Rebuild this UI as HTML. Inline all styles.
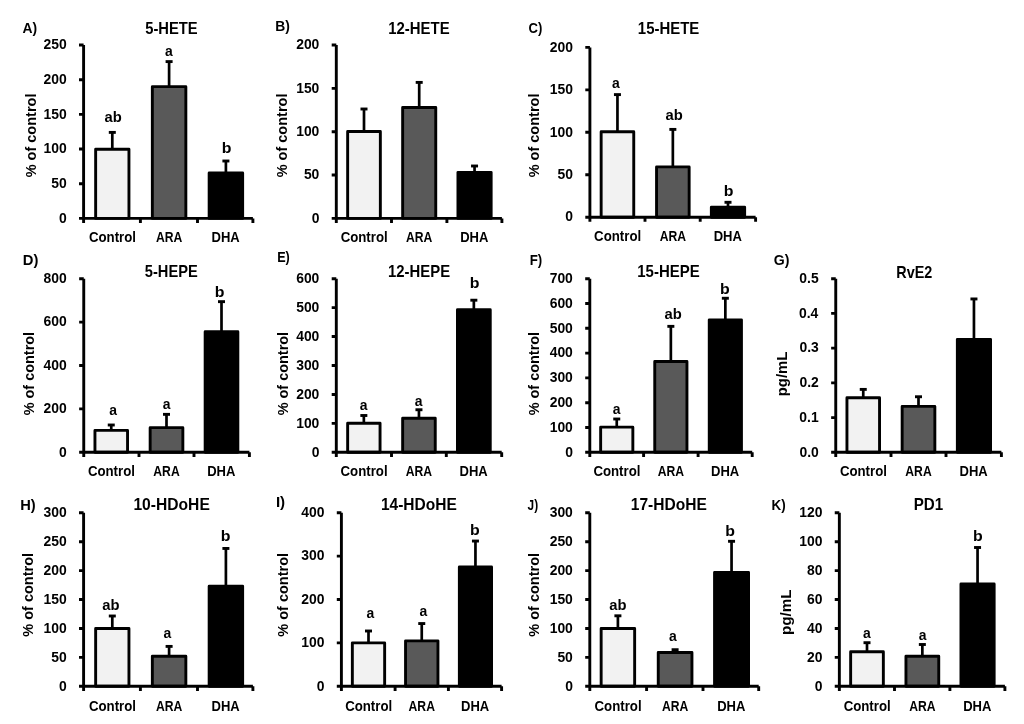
<!DOCTYPE html>
<html><head><meta charset="utf-8"><style>
html,body{margin:0;padding:0;background:#fff;}
svg{display:block;will-change:transform;}
text{font-family:"Liberation Sans",sans-serif;font-weight:bold;fill:#000;}
</style></head><body>
<svg width="1024" height="724" viewBox="0 0 1024 724">
<rect width="1024" height="724" fill="#fff"/>
<rect x="95.65" y="149.25" width="33.30" height="69.15" fill="#f2f2f2" stroke="#000" stroke-width="2.9" stroke-linejoin="round"/>
<path d="M112.30 149.25V132.40" stroke="#000" stroke-width="2.7"/>
<path d="M108.80 132.40H115.80" stroke="#000" stroke-width="2.9"/>
<text x="104.56" y="121.80" font-size="15.0" textLength="17.25" lengthAdjust="spacingAndGlyphs">ab</text>
<text x="88.94" y="241.80" font-size="14.6" textLength="47.09" lengthAdjust="spacingAndGlyphs">Control</text>
<rect x="152.35" y="86.65" width="33.50" height="131.75" fill="#595959" stroke="#000" stroke-width="2.9" stroke-linejoin="round"/>
<path d="M169.10 86.65V61.60" stroke="#000" stroke-width="2.7"/>
<path d="M165.60 61.60H172.60" stroke="#000" stroke-width="2.9"/>
<text x="164.98" y="56.30" font-size="15.0" textLength="7.74" lengthAdjust="spacingAndGlyphs">a</text>
<text x="155.93" y="241.80" font-size="14.6" textLength="26.34" lengthAdjust="spacingAndGlyphs">ARA</text>
<rect x="209.15" y="172.95" width="33.50" height="45.45" fill="#000000" stroke="#000" stroke-width="2.9" stroke-linejoin="round"/>
<path d="M225.90 172.95V161.00" stroke="#000" stroke-width="2.7"/>
<path d="M222.40 161.00H229.40" stroke="#000" stroke-width="2.9"/>
<text x="221.85" y="153.20" font-size="15.0" textLength="9.70" lengthAdjust="spacingAndGlyphs">b</text>
<text x="211.54" y="241.80" font-size="14.6" textLength="28.20" lengthAdjust="spacingAndGlyphs">DHA</text>
<text x="58.93" y="222.63" font-size="13.9">0</text>
<text x="51.20" y="187.95" font-size="13.9">50</text>
<text x="43.47" y="153.27" font-size="13.9">100</text>
<text x="43.47" y="118.59" font-size="13.9">150</text>
<text x="43.47" y="83.91" font-size="13.9">200</text>
<text x="43.47" y="49.23" font-size="13.9">250</text>
<path d="M83.60 45.00V223.00M79.00 218.40H252.90M79.00 183.72H83.60M79.00 149.04H83.60M79.00 114.36H83.60M79.00 79.68H83.60M79.00 45.00H83.60M140.40 218.40V223.00M197.50 218.40V223.00M252.90 218.40V223.00" fill="none" stroke="#000" stroke-width="2.9"/>
<text x="145.23" y="33.60" font-size="16.6" textLength="52.43" lengthAdjust="spacingAndGlyphs">5-HETE</text>
<text x="22.54" y="32.90" font-size="15.0" textLength="14.64" lengthAdjust="spacingAndGlyphs">A)</text>
<text x="-177.35" y="35.70" font-size="15.1" textLength="83.75" lengthAdjust="spacingAndGlyphs" transform="rotate(-90)">% of control</text>
<rect x="347.65" y="131.45" width="32.70" height="86.95" fill="#f2f2f2" stroke="#000" stroke-width="2.9" stroke-linejoin="round"/>
<path d="M364.00 131.45V109.00" stroke="#000" stroke-width="2.7"/>
<path d="M360.50 109.00H367.50" stroke="#000" stroke-width="2.9"/>
<text x="340.64" y="241.80" font-size="14.6" textLength="47.09" lengthAdjust="spacingAndGlyphs">Control</text>
<rect x="402.65" y="107.45" width="33.10" height="110.95" fill="#595959" stroke="#000" stroke-width="2.9" stroke-linejoin="round"/>
<path d="M419.20 107.45V82.40" stroke="#000" stroke-width="2.7"/>
<path d="M415.70 82.40H422.70" stroke="#000" stroke-width="2.9"/>
<text x="406.03" y="241.80" font-size="14.6" textLength="26.34" lengthAdjust="spacingAndGlyphs">ARA</text>
<rect x="457.95" y="172.35" width="33.20" height="46.05" fill="#000000" stroke="#000" stroke-width="2.9" stroke-linejoin="round"/>
<path d="M474.55 172.35V166.00" stroke="#000" stroke-width="2.7"/>
<path d="M471.05 166.00H478.05" stroke="#000" stroke-width="2.9"/>
<text x="460.19" y="241.80" font-size="14.6" textLength="28.20" lengthAdjust="spacingAndGlyphs">DHA</text>
<text x="311.63" y="222.63" font-size="13.9">0</text>
<text x="303.90" y="179.28" font-size="13.9">50</text>
<text x="296.17" y="135.93" font-size="13.9">100</text>
<text x="296.17" y="92.58" font-size="13.9">150</text>
<text x="296.17" y="49.23" font-size="13.9">200</text>
<path d="M336.30 45.00V223.00M331.70 218.40H501.90M331.70 175.05H336.30M331.70 131.70H336.30M331.70 88.35H336.30M331.70 45.00H336.30M391.50 218.40V223.00M446.90 218.40V223.00M501.90 218.40V223.00" fill="none" stroke="#000" stroke-width="2.9"/>
<text x="388.27" y="33.80" font-size="16.6" textLength="61.40" lengthAdjust="spacingAndGlyphs">12-HETE</text>
<text x="275.19" y="30.60" font-size="15.0" textLength="14.59" lengthAdjust="spacingAndGlyphs">B)</text>
<text x="-177.35" y="287.40" font-size="15.1" textLength="83.75" lengthAdjust="spacingAndGlyphs" transform="rotate(-90)">% of control</text>
<rect x="601.15" y="131.75" width="32.60" height="85.45" fill="#f2f2f2" stroke="#000" stroke-width="2.9" stroke-linejoin="round"/>
<path d="M617.45 131.75V94.60" stroke="#000" stroke-width="2.7"/>
<path d="M613.95 94.60H620.95" stroke="#000" stroke-width="2.9"/>
<text x="612.08" y="88.15" font-size="15.0" textLength="7.74" lengthAdjust="spacingAndGlyphs">a</text>
<text x="594.09" y="240.70" font-size="14.6" textLength="47.09" lengthAdjust="spacingAndGlyphs">Control</text>
<rect x="656.55" y="166.90" width="32.60" height="50.30" fill="#595959" stroke="#000" stroke-width="2.9" stroke-linejoin="round"/>
<path d="M672.85 166.90V129.40" stroke="#000" stroke-width="2.7"/>
<path d="M669.35 129.40H676.35" stroke="#000" stroke-width="2.9"/>
<text x="665.51" y="119.95" font-size="15.0" textLength="17.25" lengthAdjust="spacingAndGlyphs">ab</text>
<text x="659.68" y="240.70" font-size="14.6" textLength="26.34" lengthAdjust="spacingAndGlyphs">ARA</text>
<rect x="711.35" y="207.15" width="33.30" height="10.05" fill="#000000" stroke="#000" stroke-width="2.9" stroke-linejoin="round"/>
<path d="M728.00 207.15V202.30" stroke="#000" stroke-width="2.7"/>
<path d="M724.50 202.30H731.50" stroke="#000" stroke-width="2.9"/>
<text x="723.80" y="195.50" font-size="15.0" textLength="9.70" lengthAdjust="spacingAndGlyphs">b</text>
<text x="713.64" y="240.70" font-size="14.6" textLength="28.20" lengthAdjust="spacingAndGlyphs">DHA</text>
<text x="565.23" y="221.43" font-size="13.9">0</text>
<text x="557.50" y="178.98" font-size="13.9">50</text>
<text x="549.77" y="136.53" font-size="13.9">100</text>
<text x="549.77" y="94.08" font-size="13.9">150</text>
<text x="549.77" y="51.63" font-size="13.9">200</text>
<path d="M589.90 47.40V221.80M585.30 217.20H755.60M585.30 174.75H589.90M585.30 132.30H589.90M585.30 89.85H589.90M585.30 47.40H589.90M645.00 217.20V221.80M700.20 217.20V221.80M755.60 217.20V221.80" fill="none" stroke="#000" stroke-width="2.9"/>
<text x="637.82" y="33.80" font-size="16.6" textLength="61.50" lengthAdjust="spacingAndGlyphs">15-HETE</text>
<text x="528.45" y="32.80" font-size="15.0" textLength="13.79" lengthAdjust="spacingAndGlyphs">C)</text>
<text x="-177.35" y="538.80" font-size="15.1" textLength="83.75" lengthAdjust="spacingAndGlyphs" transform="rotate(-90)">% of control</text>
<rect x="94.95" y="430.40" width="32.60" height="21.90" fill="#f2f2f2" stroke="#000" stroke-width="2.9" stroke-linejoin="round"/>
<path d="M111.25 430.40V425.00" stroke="#000" stroke-width="2.7"/>
<path d="M107.75 425.00H114.75" stroke="#000" stroke-width="2.9"/>
<text x="109.13" y="415.40" font-size="15.0" textLength="7.74" lengthAdjust="spacingAndGlyphs">a</text>
<text x="87.89" y="476.20" font-size="14.6" textLength="47.09" lengthAdjust="spacingAndGlyphs">Control</text>
<rect x="150.15" y="427.65" width="32.70" height="24.65" fill="#595959" stroke="#000" stroke-width="2.9" stroke-linejoin="round"/>
<path d="M166.50 427.65V414.35" stroke="#000" stroke-width="2.7"/>
<path d="M163.00 414.35H170.00" stroke="#000" stroke-width="2.9"/>
<text x="162.78" y="408.50" font-size="15.0" textLength="7.74" lengthAdjust="spacingAndGlyphs">a</text>
<text x="153.33" y="476.20" font-size="14.6" textLength="26.34" lengthAdjust="spacingAndGlyphs">ARA</text>
<rect x="205.15" y="331.75" width="32.70" height="120.55" fill="#000000" stroke="#000" stroke-width="2.9" stroke-linejoin="round"/>
<path d="M221.50 331.75V301.65" stroke="#000" stroke-width="2.7"/>
<path d="M218.00 301.65H225.00" stroke="#000" stroke-width="2.9"/>
<text x="214.70" y="297.00" font-size="15.0" textLength="9.70" lengthAdjust="spacingAndGlyphs">b</text>
<text x="207.14" y="476.20" font-size="14.6" textLength="28.20" lengthAdjust="spacingAndGlyphs">DHA</text>
<text x="59.08" y="456.53" font-size="13.9">0</text>
<text x="43.62" y="413.13" font-size="13.9">200</text>
<text x="43.62" y="369.73" font-size="13.9">400</text>
<text x="43.62" y="326.33" font-size="13.9">600</text>
<text x="43.62" y="282.93" font-size="13.9">800</text>
<path d="M83.75 278.70V456.90M79.15 452.30H249.40M79.15 408.90H83.75M79.15 365.50H83.75M79.15 322.10H83.75M79.15 278.70H83.75M139.00 452.30V456.90M194.00 452.30V456.90M249.40 452.30V456.90" fill="none" stroke="#000" stroke-width="2.9"/>
<text x="144.83" y="277.40" font-size="16.6" textLength="52.93" lengthAdjust="spacingAndGlyphs">5-HEPE</text>
<text x="22.82" y="264.70" font-size="15.0" textLength="15.60" lengthAdjust="spacingAndGlyphs">D)</text>
<text x="-415.35" y="33.70" font-size="15.1" textLength="83.45" lengthAdjust="spacingAndGlyphs" transform="rotate(-90)">% of control</text>
<rect x="347.65" y="423.20" width="32.40" height="29.10" fill="#f2f2f2" stroke="#000" stroke-width="2.9" stroke-linejoin="round"/>
<path d="M363.85 423.20V415.50" stroke="#000" stroke-width="2.7"/>
<path d="M360.35 415.50H367.35" stroke="#000" stroke-width="2.9"/>
<text x="359.73" y="409.80" font-size="15.0" textLength="7.74" lengthAdjust="spacingAndGlyphs">a</text>
<text x="340.49" y="476.20" font-size="14.6" textLength="47.09" lengthAdjust="spacingAndGlyphs">Control</text>
<rect x="402.65" y="418.20" width="32.60" height="34.10" fill="#595959" stroke="#000" stroke-width="2.9" stroke-linejoin="round"/>
<path d="M418.95 418.20V409.75" stroke="#000" stroke-width="2.7"/>
<path d="M415.45 409.75H422.45" stroke="#000" stroke-width="2.9"/>
<text x="414.83" y="405.70" font-size="15.0" textLength="7.74" lengthAdjust="spacingAndGlyphs">a</text>
<text x="405.78" y="476.20" font-size="14.6" textLength="26.34" lengthAdjust="spacingAndGlyphs">ARA</text>
<rect x="457.45" y="309.70" width="32.80" height="142.60" fill="#000000" stroke="#000" stroke-width="2.9" stroke-linejoin="round"/>
<path d="M473.85 309.70V300.20" stroke="#000" stroke-width="2.7"/>
<path d="M470.35 300.20H477.35" stroke="#000" stroke-width="2.9"/>
<text x="469.70" y="287.90" font-size="15.0" textLength="9.70" lengthAdjust="spacingAndGlyphs">b</text>
<text x="459.49" y="476.20" font-size="14.6" textLength="28.20" lengthAdjust="spacingAndGlyphs">DHA</text>
<text x="311.63" y="456.53" font-size="13.9">0</text>
<text x="296.17" y="427.60" font-size="13.9">100</text>
<text x="296.17" y="398.66" font-size="13.9">200</text>
<text x="296.17" y="369.73" font-size="13.9">300</text>
<text x="296.17" y="340.80" font-size="13.9">400</text>
<text x="296.17" y="311.86" font-size="13.9">500</text>
<text x="296.17" y="282.93" font-size="13.9">600</text>
<path d="M336.30 278.70V456.90M331.70 452.30H501.70M331.70 423.37H336.30M331.70 394.43H336.30M331.70 365.50H336.30M331.70 336.57H336.30M331.70 307.63H336.30M331.70 278.70H336.30M391.50 452.30V456.90M446.30 452.30V456.90M501.70 452.30V456.90" fill="none" stroke="#000" stroke-width="2.9"/>
<text x="388.08" y="277.40" font-size="16.6" textLength="61.99" lengthAdjust="spacingAndGlyphs">12-HEPE</text>
<text x="277.17" y="262.10" font-size="15.0" textLength="12.64" lengthAdjust="spacingAndGlyphs">E)</text>
<text x="-415.35" y="287.70" font-size="15.1" textLength="83.45" lengthAdjust="spacingAndGlyphs" transform="rotate(-90)">% of control</text>
<rect x="600.65" y="427.15" width="32.20" height="25.15" fill="#f2f2f2" stroke="#000" stroke-width="2.9" stroke-linejoin="round"/>
<path d="M616.75 427.15V419.00" stroke="#000" stroke-width="2.7"/>
<path d="M613.25 419.00H620.25" stroke="#000" stroke-width="2.9"/>
<text x="612.63" y="414.30" font-size="15.0" textLength="7.74" lengthAdjust="spacingAndGlyphs">a</text>
<text x="593.39" y="476.20" font-size="14.6" textLength="47.09" lengthAdjust="spacingAndGlyphs">Control</text>
<rect x="654.75" y="361.50" width="32.20" height="90.80" fill="#595959" stroke="#000" stroke-width="2.9" stroke-linejoin="round"/>
<path d="M670.85 361.50V326.35" stroke="#000" stroke-width="2.7"/>
<path d="M667.35 326.35H674.35" stroke="#000" stroke-width="2.9"/>
<text x="664.56" y="319.25" font-size="15.0" textLength="17.25" lengthAdjust="spacingAndGlyphs">ab</text>
<text x="657.68" y="476.20" font-size="14.6" textLength="26.34" lengthAdjust="spacingAndGlyphs">ARA</text>
<rect x="709.25" y="319.85" width="32.20" height="132.45" fill="#000000" stroke="#000" stroke-width="2.9" stroke-linejoin="round"/>
<path d="M725.35 319.85V298.25" stroke="#000" stroke-width="2.7"/>
<path d="M721.85 298.25H728.85" stroke="#000" stroke-width="2.9"/>
<text x="719.90" y="293.75" font-size="15.0" textLength="9.70" lengthAdjust="spacingAndGlyphs">b</text>
<text x="710.99" y="476.20" font-size="14.6" textLength="28.20" lengthAdjust="spacingAndGlyphs">DHA</text>
<text x="565.13" y="456.53" font-size="13.9">0</text>
<text x="549.67" y="431.73" font-size="13.9">100</text>
<text x="549.67" y="406.93" font-size="13.9">200</text>
<text x="549.67" y="382.13" font-size="13.9">300</text>
<text x="549.67" y="357.33" font-size="13.9">400</text>
<text x="549.67" y="332.53" font-size="13.9">500</text>
<text x="549.67" y="307.73" font-size="13.9">600</text>
<text x="549.67" y="282.93" font-size="13.9">700</text>
<path d="M589.80 278.70V456.90M585.20 452.30H752.20M585.20 427.50H589.80M585.20 402.70H589.80M585.20 377.90H589.80M585.20 353.10H589.80M585.20 328.30H589.80M585.20 303.50H589.80M585.20 278.70H589.80M643.60 452.30V456.90M698.10 452.30V456.90M752.20 452.30V456.90" fill="none" stroke="#000" stroke-width="2.9"/>
<text x="637.27" y="277.40" font-size="16.6" textLength="62.40" lengthAdjust="spacingAndGlyphs">15-HEPE</text>
<text x="529.72" y="264.60" font-size="15.0" textLength="12.54" lengthAdjust="spacingAndGlyphs">F)</text>
<text x="-415.35" y="538.80" font-size="15.1" textLength="83.45" lengthAdjust="spacingAndGlyphs" transform="rotate(-90)">% of control</text>
<rect x="846.95" y="397.70" width="32.60" height="54.60" fill="#f2f2f2" stroke="#000" stroke-width="2.9" stroke-linejoin="round"/>
<path d="M863.25 397.70V389.40" stroke="#000" stroke-width="2.7"/>
<path d="M859.75 389.40H866.75" stroke="#000" stroke-width="2.9"/>
<text x="839.89" y="476.20" font-size="14.6" textLength="47.09" lengthAdjust="spacingAndGlyphs">Control</text>
<rect x="902.15" y="406.40" width="32.70" height="45.90" fill="#595959" stroke="#000" stroke-width="2.9" stroke-linejoin="round"/>
<path d="M918.50 406.40V396.75" stroke="#000" stroke-width="2.7"/>
<path d="M915.00 396.75H922.00" stroke="#000" stroke-width="2.9"/>
<text x="905.33" y="476.20" font-size="14.6" textLength="26.34" lengthAdjust="spacingAndGlyphs">ARA</text>
<rect x="957.35" y="339.35" width="33.20" height="112.95" fill="#000000" stroke="#000" stroke-width="2.9" stroke-linejoin="round"/>
<path d="M973.95 339.35V298.95" stroke="#000" stroke-width="2.7"/>
<path d="M970.45 298.95H977.45" stroke="#000" stroke-width="2.9"/>
<text x="959.59" y="476.20" font-size="14.6" textLength="28.20" lengthAdjust="spacingAndGlyphs">DHA</text>
<text x="799.49" y="456.53" font-size="13.9">0.0</text>
<text x="799.32" y="421.81" font-size="13.9">0.1</text>
<text x="799.49" y="387.09" font-size="13.9">0.2</text>
<text x="799.43" y="352.37" font-size="13.9">0.3</text>
<text x="799.01" y="317.65" font-size="13.9">0.4</text>
<text x="799.32" y="282.93" font-size="13.9">0.5</text>
<path d="M835.75 278.70V456.90M831.15 452.30H1001.40M831.15 417.58H835.75M831.15 382.86H835.75M831.15 348.14H835.75M831.15 313.42H835.75M831.15 278.70H835.75M891.00 452.30V456.90M946.00 452.30V456.90M1001.40 452.30V456.90" fill="none" stroke="#000" stroke-width="2.9"/>
<text x="896.25" y="277.60" font-size="16.6" textLength="36.02" lengthAdjust="spacingAndGlyphs">RvE2</text>
<text x="773.71" y="264.60" font-size="15.0" textLength="15.68" lengthAdjust="spacingAndGlyphs">G)</text>
<text x="-396.28" y="786.90" font-size="14.3" textLength="44.76" lengthAdjust="spacingAndGlyphs" transform="rotate(-90)">pg/mL</text>
<rect x="95.65" y="628.50" width="33.30" height="57.80" fill="#f2f2f2" stroke="#000" stroke-width="2.9" stroke-linejoin="round"/>
<path d="M112.30 628.50V616.00" stroke="#000" stroke-width="2.7"/>
<path d="M108.80 616.00H115.80" stroke="#000" stroke-width="2.9"/>
<text x="102.36" y="609.80" font-size="15.0" textLength="17.25" lengthAdjust="spacingAndGlyphs">ab</text>
<text x="88.94" y="710.50" font-size="14.6" textLength="47.09" lengthAdjust="spacingAndGlyphs">Control</text>
<rect x="152.35" y="656.30" width="33.50" height="30.00" fill="#595959" stroke="#000" stroke-width="2.9" stroke-linejoin="round"/>
<path d="M169.10 656.30V646.40" stroke="#000" stroke-width="2.7"/>
<path d="M165.60 646.40H172.60" stroke="#000" stroke-width="2.9"/>
<text x="163.38" y="638.25" font-size="15.0" textLength="7.74" lengthAdjust="spacingAndGlyphs">a</text>
<text x="155.93" y="710.50" font-size="14.6" textLength="26.34" lengthAdjust="spacingAndGlyphs">ARA</text>
<rect x="209.15" y="586.20" width="33.50" height="100.10" fill="#000000" stroke="#000" stroke-width="2.9" stroke-linejoin="round"/>
<path d="M225.90 586.20V548.45" stroke="#000" stroke-width="2.7"/>
<path d="M222.40 548.45H229.40" stroke="#000" stroke-width="2.9"/>
<text x="220.85" y="541.30" font-size="15.0" textLength="9.70" lengthAdjust="spacingAndGlyphs">b</text>
<text x="211.54" y="710.50" font-size="14.6" textLength="28.20" lengthAdjust="spacingAndGlyphs">DHA</text>
<text x="58.93" y="690.53" font-size="13.9">0</text>
<text x="51.20" y="661.61" font-size="13.9">50</text>
<text x="43.47" y="632.70" font-size="13.9">100</text>
<text x="43.47" y="603.78" font-size="13.9">150</text>
<text x="43.47" y="574.86" font-size="13.9">200</text>
<text x="43.47" y="545.95" font-size="13.9">250</text>
<text x="43.47" y="517.03" font-size="13.9">300</text>
<path d="M83.60 512.80V690.90M79.00 686.30H252.90M79.00 657.38H83.60M79.00 628.47H83.60M79.00 599.55H83.60M79.00 570.63H83.60M79.00 541.72H83.60M79.00 512.80H83.60M140.40 686.30V690.90M197.50 686.30V690.90M252.90 686.30V690.90" fill="none" stroke="#000" stroke-width="2.9"/>
<text x="133.43" y="510.00" font-size="16.6" textLength="76.39" lengthAdjust="spacingAndGlyphs">10-HDoHE</text>
<text x="20.13" y="509.60" font-size="15.0" textLength="15.49" lengthAdjust="spacingAndGlyphs">H)</text>
<text x="-636.65" y="33.40" font-size="15.1" textLength="83.65" lengthAdjust="spacingAndGlyphs" transform="rotate(-90)">% of control</text>
<rect x="352.35" y="642.85" width="32.30" height="43.45" fill="#f2f2f2" stroke="#000" stroke-width="2.9" stroke-linejoin="round"/>
<path d="M368.50 642.85V631.00" stroke="#000" stroke-width="2.7"/>
<path d="M365.00 631.00H372.00" stroke="#000" stroke-width="2.9"/>
<text x="366.48" y="618.30" font-size="15.0" textLength="7.74" lengthAdjust="spacingAndGlyphs">a</text>
<text x="345.14" y="710.50" font-size="14.6" textLength="47.09" lengthAdjust="spacingAndGlyphs">Control</text>
<rect x="405.55" y="640.85" width="32.40" height="45.45" fill="#595959" stroke="#000" stroke-width="2.9" stroke-linejoin="round"/>
<path d="M421.75 640.85V623.55" stroke="#000" stroke-width="2.7"/>
<path d="M418.25 623.55H425.25" stroke="#000" stroke-width="2.9"/>
<text x="419.38" y="616.20" font-size="15.0" textLength="7.74" lengthAdjust="spacingAndGlyphs">a</text>
<text x="408.58" y="710.50" font-size="14.6" textLength="26.34" lengthAdjust="spacingAndGlyphs">ARA</text>
<rect x="459.35" y="566.95" width="32.20" height="119.35" fill="#000000" stroke="#000" stroke-width="2.9" stroke-linejoin="round"/>
<path d="M475.45 566.95V541.05" stroke="#000" stroke-width="2.7"/>
<path d="M471.95 541.05H478.95" stroke="#000" stroke-width="2.9"/>
<text x="469.90" y="534.90" font-size="15.0" textLength="9.70" lengthAdjust="spacingAndGlyphs">b</text>
<text x="461.09" y="710.50" font-size="14.6" textLength="28.20" lengthAdjust="spacingAndGlyphs">DHA</text>
<text x="316.73" y="690.53" font-size="13.9">0</text>
<text x="301.27" y="647.15" font-size="13.9">100</text>
<text x="301.27" y="603.78" font-size="13.9">200</text>
<text x="301.27" y="560.40" font-size="13.9">300</text>
<text x="301.27" y="517.03" font-size="13.9">400</text>
<path d="M341.40 512.80V690.90M336.80 686.30H501.60M336.80 642.92H341.40M336.80 599.55H341.40M336.80 556.17H341.40M336.80 512.80H341.40M395.10 686.30V690.90M448.40 686.30V690.90M501.60 686.30V690.90" fill="none" stroke="#000" stroke-width="2.9"/>
<text x="380.94" y="510.00" font-size="16.6" textLength="75.88" lengthAdjust="spacingAndGlyphs">14-HDoHE</text>
<text x="275.90" y="506.90" font-size="15.0" textLength="9.24" lengthAdjust="spacingAndGlyphs">I)</text>
<text x="-636.65" y="287.80" font-size="15.1" textLength="83.65" lengthAdjust="spacingAndGlyphs" transform="rotate(-90)">% of control</text>
<rect x="601.15" y="628.50" width="33.50" height="57.80" fill="#f2f2f2" stroke="#000" stroke-width="2.9" stroke-linejoin="round"/>
<path d="M617.90 628.50V615.80" stroke="#000" stroke-width="2.7"/>
<path d="M614.40 615.80H621.40" stroke="#000" stroke-width="2.9"/>
<text x="609.36" y="609.90" font-size="15.0" textLength="17.25" lengthAdjust="spacingAndGlyphs">ab</text>
<text x="594.54" y="710.50" font-size="14.6" textLength="47.09" lengthAdjust="spacingAndGlyphs">Control</text>
<rect x="658.25" y="652.55" width="33.70" height="33.75" fill="#595959" stroke="#000" stroke-width="2.9" stroke-linejoin="round"/>
<path d="M675.10 652.55V649.70" stroke="#000" stroke-width="2.7"/>
<path d="M671.60 649.70H678.60" stroke="#000" stroke-width="2.9"/>
<text x="668.88" y="640.90" font-size="15.0" textLength="7.74" lengthAdjust="spacingAndGlyphs">a</text>
<text x="661.93" y="710.50" font-size="14.6" textLength="26.34" lengthAdjust="spacingAndGlyphs">ARA</text>
<rect x="714.55" y="572.40" width="34.00" height="113.90" fill="#000000" stroke="#000" stroke-width="2.9" stroke-linejoin="round"/>
<path d="M731.55 572.40V541.30" stroke="#000" stroke-width="2.7"/>
<path d="M728.05 541.30H735.05" stroke="#000" stroke-width="2.9"/>
<text x="725.25" y="536.10" font-size="15.0" textLength="9.70" lengthAdjust="spacingAndGlyphs">b</text>
<text x="717.19" y="710.50" font-size="14.6" textLength="28.20" lengthAdjust="spacingAndGlyphs">DHA</text>
<text x="565.13" y="690.53" font-size="13.9">0</text>
<text x="557.40" y="661.61" font-size="13.9">50</text>
<text x="549.67" y="632.70" font-size="13.9">100</text>
<text x="549.67" y="603.78" font-size="13.9">150</text>
<text x="549.67" y="574.86" font-size="13.9">200</text>
<text x="549.67" y="545.95" font-size="13.9">250</text>
<text x="549.67" y="517.03" font-size="13.9">300</text>
<path d="M589.80 512.80V690.90M585.20 686.30H758.70M585.20 657.38H589.80M585.20 628.47H589.80M585.20 599.55H589.80M585.20 570.63H589.80M585.20 541.72H589.80M585.20 512.80H589.80M646.60 686.30V690.90M703.00 686.30V690.90M758.70 686.30V690.90" fill="none" stroke="#000" stroke-width="2.9"/>
<text x="630.74" y="510.00" font-size="16.6" textLength="76.08" lengthAdjust="spacingAndGlyphs">17-HDoHE</text>
<text x="527.61" y="509.60" font-size="15.0" textLength="10.57" lengthAdjust="spacingAndGlyphs">J)</text>
<text x="-636.65" y="538.50" font-size="15.1" textLength="83.65" lengthAdjust="spacingAndGlyphs" transform="rotate(-90)">% of control</text>
<rect x="850.65" y="651.75" width="32.70" height="34.55" fill="#f2f2f2" stroke="#000" stroke-width="2.9" stroke-linejoin="round"/>
<path d="M867.00 651.75V642.70" stroke="#000" stroke-width="2.7"/>
<path d="M863.50 642.70H870.50" stroke="#000" stroke-width="2.9"/>
<text x="862.88" y="637.55" font-size="15.0" textLength="7.74" lengthAdjust="spacingAndGlyphs">a</text>
<text x="843.64" y="710.50" font-size="14.6" textLength="47.09" lengthAdjust="spacingAndGlyphs">Control</text>
<rect x="905.95" y="656.30" width="32.80" height="30.00" fill="#595959" stroke="#000" stroke-width="2.9" stroke-linejoin="round"/>
<path d="M922.35 656.30V644.50" stroke="#000" stroke-width="2.7"/>
<path d="M918.85 644.50H925.85" stroke="#000" stroke-width="2.9"/>
<text x="918.73" y="640.20" font-size="15.0" textLength="7.74" lengthAdjust="spacingAndGlyphs">a</text>
<text x="909.18" y="710.50" font-size="14.6" textLength="26.34" lengthAdjust="spacingAndGlyphs">ARA</text>
<rect x="960.95" y="584.00" width="33.20" height="102.30" fill="#000000" stroke="#000" stroke-width="2.9" stroke-linejoin="round"/>
<path d="M977.55 584.00V547.50" stroke="#000" stroke-width="2.7"/>
<path d="M974.05 547.50H981.05" stroke="#000" stroke-width="2.9"/>
<text x="973.10" y="541.30" font-size="15.0" textLength="9.70" lengthAdjust="spacingAndGlyphs">b</text>
<text x="963.19" y="710.50" font-size="14.6" textLength="28.20" lengthAdjust="spacingAndGlyphs">DHA</text>
<text x="814.68" y="690.53" font-size="13.9">0</text>
<text x="806.95" y="661.61" font-size="13.9">20</text>
<text x="806.95" y="632.70" font-size="13.9">40</text>
<text x="806.95" y="603.78" font-size="13.9">60</text>
<text x="806.95" y="574.86" font-size="13.9">80</text>
<text x="799.22" y="545.95" font-size="13.9">100</text>
<text x="799.22" y="517.03" font-size="13.9">120</text>
<path d="M839.35 512.80V690.90M834.75 686.30H1004.90M834.75 657.38H839.35M834.75 628.47H839.35M834.75 599.55H839.35M834.75 570.63H839.35M834.75 541.72H839.35M834.75 512.80H839.35M894.50 686.30V690.90M949.90 686.30V690.90M1004.90 686.30V690.90" fill="none" stroke="#000" stroke-width="2.9"/>
<text x="913.75" y="509.70" font-size="16.6" textLength="29.46" lengthAdjust="spacingAndGlyphs">PD1</text>
<text x="771.62" y="509.60" font-size="15.0" textLength="14.14" lengthAdjust="spacingAndGlyphs">K)</text>
<text x="-635.11" y="791.40" font-size="14.3" textLength="45.69" lengthAdjust="spacingAndGlyphs" transform="rotate(-90)">pg/mL</text>
</svg>
</body></html>
